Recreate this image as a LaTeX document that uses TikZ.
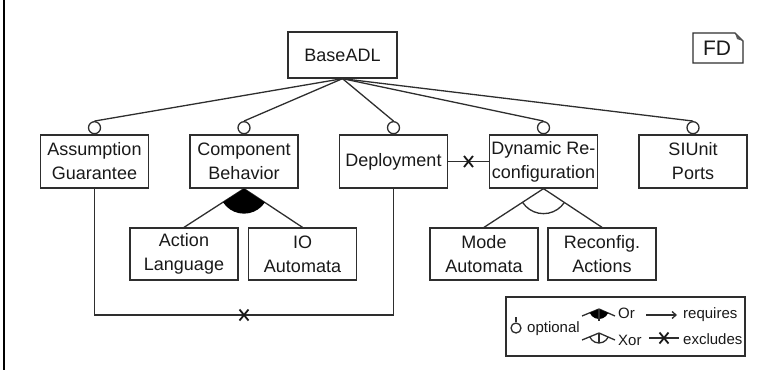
\documentclass[tikz,border=0pt]{standalone}
\usepackage{fontspec}
\setmainfont{Liberation Sans}
\usetikzlibrary{calc,arrows.meta}
\newcommand\xmk[1]{\draw[xm] (#1) ++(-4.5,-5.5) -- ++(9,11) (#1) ++(-4.5,5.5) -- ++(9,-11);}
\begin{document}
\begin{tikzpicture}[x=1pt,y=-1pt,
  ln/.style={draw=black!82,line width=1.3pt},
  fbox/.style={ln,rectangle,minimum width=108pt,minimum height=53pt,inner sep=0pt,align=center,font=\fontsize{18}{24}\selectfont,text=black!90},
  opt/.style={ln,circle,minimum size=12pt,inner sep=0pt,fill=white},
  xm/.style={draw=black!90,line width=1.8pt},
  lg/.style={font=\fontsize{15}{17}\selectfont,inner sep=0pt,text=black!90,anchor=west}]
\useasboundingbox (0,0) rectangle (769,370);
\fill[black] (2.6,0) rectangle (5,370);
% main boxes
\node[fbox,minimum width=109pt,minimum height=46pt] (base) at (342.5,55) {BaseADL};
\node[fbox] (asm) at (94.5,161.5) {Assumption\\Guarantee};
\node[fbox] (cmp) at (244,161.5) {Component\\Behavior};
\node[fbox] (dep) at (393.5,161.5) {Deployment};
\node[fbox] (dyn) at (543.5,161.5) {Dynamic Re-\\configuration};
\node[fbox] (siu) at (693,161.5) {SIUnit\\Ports};
\node[fbox,minimum height=52pt] (act) at (184,254) {Action\\Language};
\node[fbox,minimum height=52pt] (iox) at (302.5,254) {IO\\Automata};
\node[fbox,minimum height=52pt] (mode) at (484,254) {Mode\\Automata};
\node[fbox,minimum height=52pt] (rcf) at (602,254) {Reconfig.\\Actions};
% optional circles
\foreach \n in {asm,cmp,dep,dyn,siu}{
  \node[opt,anchor=south] (o\n) at (\n.north) {};
  \draw[ln] (base.south) -- (o\n.north);
}
% or group
\draw[ln] (act.north) -- (cmp.south) -- (iox.north);
\begin{scope}
  \clip (cmp.south) -- (act.north) -- (iox.north) -- cycle;
  \fill[black] (cmp.south) circle[radius=25];
\end{scope}
% xor group
\draw[ln] (mode.north) -- (dyn.south) -- (rcf.north);
\begin{scope}
  \clip (dyn.south) -- (mode.north) -- (rcf.north) -- cycle;
  \draw[ln] (dyn.south) circle[radius=25];
\end{scope}
% excludes
\coordinate (xb) at (244,315);
\draw[ln] (asm.south) |- (xb) -| (dep.south);
\xmk{xb}
\draw[ln] (dep.east) -- (dyn.west);
\coordinate (xt) at ($(dep.east)!0.5!(dyn.west)$);
\xmk{xt}
% FD tag
\node[inner sep=0pt,font=\fontsize{21}{23}\selectfont,text=black!90] (fd) at (717,48.5) {FD};
\draw[ln,line width=1.2pt] (693,33) -- (735,33) -- (743,41) -- (743,63) -- (693,63) -- cycle;
\fill[black!65] (735,33) -- (737,39) -- (743,41) -- cycle;
% legend
\node[ln,rectangle,minimum width=239pt,minimum height=59pt,inner sep=0pt] (leg) at (625.5,326.5) {};
\coordinate (ostem) at (516,317);
\node[opt,minimum size=10pt] (lopt) at (516,328) {};
\draw[ln] (ostem) -- (lopt.north);
\node[lg] (toptional) at (527,329) {optional};
\coordinate (ora) at (599,309);
\coordinate (orl) at (582,316);
\coordinate (orr) at (615,316);
\draw[ln] (orl) -- (ora) -- (orr);
\begin{scope}
  \clip (ora) -- ($(ora)!3!(orl)$) -- ($(ora)!3!(orr)$) -- cycle;
  \fill[black] (ora) circle[radius=10];
\end{scope}
\draw[ln] (ora) -- ++(0,12);
\node[lg] (tor) at (618,313) {Or};
\coordinate (xra) at (599,333);
\coordinate (xrl) at (582,340);
\coordinate (xrr) at (615,340);
\draw[ln] (xrl) -- (xra) -- (xrr);
\begin{scope}
  \clip (xra) -- ($(xra)!3!(xrl)$) -- ($(xra)!3!(xrr)$) -- cycle;
  \draw[ln] (xra) circle[radius=10];
\end{scope}
\draw[ln] (xra) -- ++(0,10);
\node[lg] (txor) at (618,340) {Xor};
\coordinate (ra) at (646,315);
\coordinate (rb) at (677,315);
\draw[ln,-{Straight Barb[length=4pt,width=7pt]}] (ra) -- (rb);
\node[lg] (treq) at (683,315) {requires};
\coordinate (ea) at (649,338);
\coordinate (eb) at (679,338);
\draw[ln] (ea) -- (eb);
\coordinate (em) at ($(ea)!0.5!(eb)$);
\xmk{em}
\node[lg] (texc) at (683,339) {excludes};
\end{tikzpicture}
\end{document}
